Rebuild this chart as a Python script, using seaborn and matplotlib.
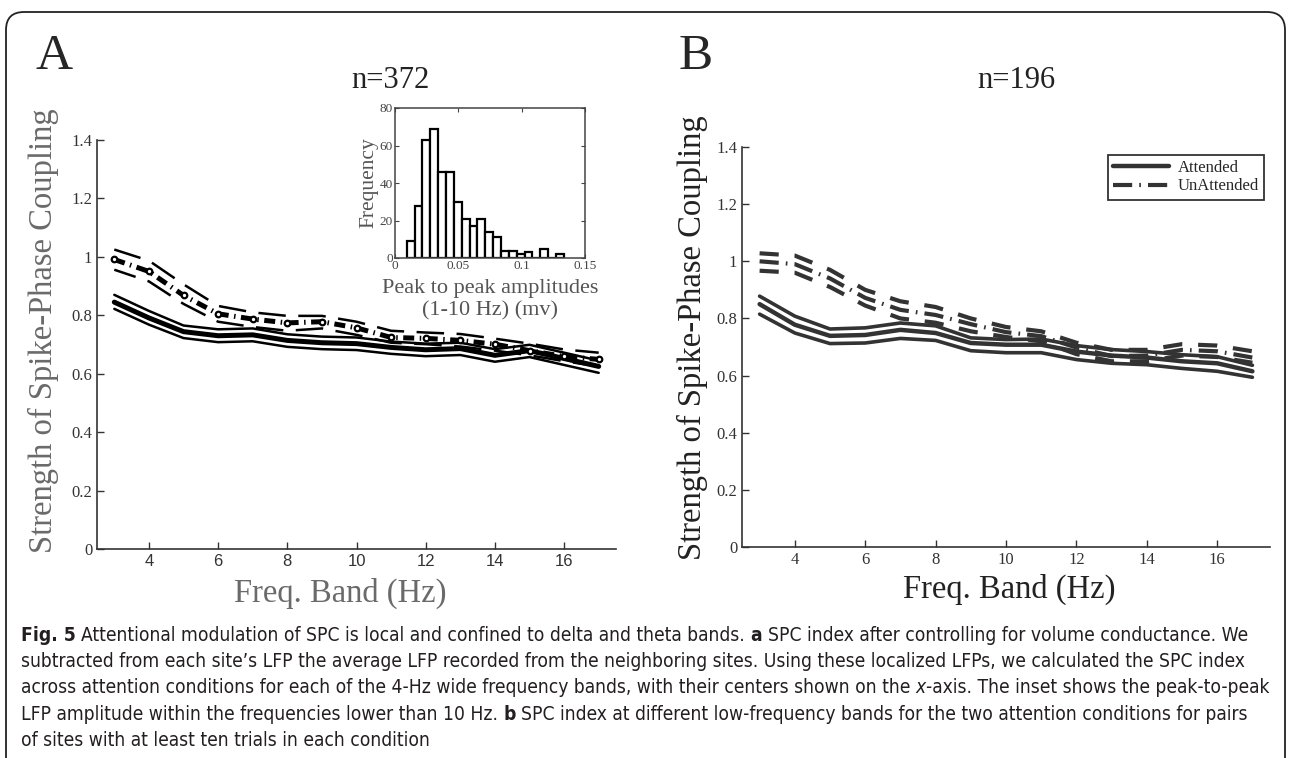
import matplotlib
matplotlib.use("Agg")
import matplotlib.pyplot as plt
import seaborn as sns
import pandas as pd
from matplotlib.patches import FancyBboxPatch
from matplotlib import font_manager

# band centres (Hz)
FREQ = [3, 4, 5, 6, 7, 8, 9, 10, 11, 12, 13, 14, 15, 16, 17]

# panel A (n=372)
A_ATT_HI = [0.870, 0.815, 0.765, 0.752, 0.755, 0.735, 0.727, 0.724, 0.710, 0.703, 0.706, 0.684, 0.699, 0.672, 0.645]
A_ATT = [0.845, 0.791, 0.744, 0.730, 0.733, 0.714, 0.706, 0.703, 0.690, 0.682, 0.686, 0.663, 0.679, 0.652, 0.625]
A_ATT_LO = [0.822, 0.768, 0.722, 0.708, 0.711, 0.692, 0.684, 0.681, 0.668, 0.660, 0.664, 0.641, 0.657, 0.630, 0.603]
A_UN_HI = [1.025, 0.987, 0.906, 0.832, 0.810, 0.798, 0.798, 0.778, 0.747, 0.741, 0.736, 0.720, 0.703, 0.683, 0.672]
A_UN = [0.991, 0.950, 0.868, 0.805, 0.787, 0.774, 0.778, 0.757, 0.724, 0.721, 0.714, 0.701, 0.679, 0.659, 0.649]
A_UN_LO = [0.956, 0.916, 0.839, 0.778, 0.760, 0.747, 0.755, 0.733, 0.706, 0.701, 0.693, 0.679, 0.663, 0.643, 0.625]

# panel B (n=196)
B_ATT_HI = [0.878, 0.808, 0.763, 0.767, 0.784, 0.774, 0.732, 0.726, 0.728, 0.705, 0.691, 0.684, 0.673, 0.666, 0.636]
B_ATT = [0.850, 0.778, 0.739, 0.742, 0.760, 0.749, 0.714, 0.708, 0.708, 0.684, 0.670, 0.663, 0.650, 0.643, 0.615]
B_ATT_LO = [0.815, 0.749, 0.712, 0.714, 0.730, 0.723, 0.687, 0.680, 0.680, 0.656, 0.643, 0.638, 0.625, 0.615, 0.594]
B_UN_HI = [1.028, 1.020, 0.970, 0.900, 0.860, 0.840, 0.800, 0.770, 0.755, 0.715, 0.690, 0.690, 0.710, 0.705, 0.685]
B_UN = [1.000, 0.990, 0.940, 0.872, 0.830, 0.812, 0.780, 0.752, 0.738, 0.698, 0.668, 0.670, 0.690, 0.685, 0.663]
B_UN_LO = [0.967, 0.960, 0.910, 0.845, 0.800, 0.785, 0.755, 0.735, 0.720, 0.675, 0.650, 0.650, 0.670, 0.665, 0.645]

# inset histogram: peak-to-peak amplitude counts
HIST_COUNTS = [9, 28, 63, 69, 46, 46, 30, 21, 17, 21, 14, 11, 4, 4, 2, 3, 0, 5, 0, 2]
HIST_START = 0.0093
HIST_WIDTH = 0.0062

YTICKS = [0, 0.2, 0.4, 0.6, 0.8, 1.0, 1.2, 1.4]
YTICKLABELS = ["0", "0.2", "0.4", "0.6", "0.8", "1", "1.2", "1.4"]
XTICKS = [4, 6, 8, 10, 12, 14, 16]

sns.set_style("ticks", {"xtick.direction": "in", "ytick.direction": "in"})
plt.rcParams["font.family"] = ["Liberation Serif", "DejaVu Serif"]

# caption face: a condensed sans if one is installed
fonts = font_manager.fontManager.ttflist
CAP_FONT, CAP_STRETCH = "Open Sans", "normal"
if any(f.name == "Liberation Sans Narrow" for f in fonts):
    CAP_FONT = "Liberation Sans Narrow"
elif any(f.name == "DejaVu Sans" and str(f.stretch) in ("condensed", "semi-condensed") for f in fonts):
    CAP_FONT, CAP_STRETCH = "DejaVu Sans", "condensed"

W, H = 1290, 758
fig = plt.figure(figsize=(12.9, 7.58), dpi=100)


def frac(x, y):
    return x / W, 1 - y / H


def box(l, t, r, b):
    return [l / W, 1 - b / H, (r - l) / W, (b - t) / H]


# rounded frame around the figure
fig.patches.append(FancyBboxPatch((0.06, -0.5), 12.79, 7.96, boxstyle="round,pad=0,rounding_size=0.18",
                                  transform=fig.dpi_scale_trans, fill=False, lw=1.3, ec="#222222"))

axA = fig.add_axes(box(97, 140, 616, 549))
axB = fig.add_axes(box(742, 147, 1270, 547))
axI = fig.add_axes(box(395, 108, 585, 258))

# ---- panel A
k = "black"
sns.lineplot(x=FREQ, y=A_ATT_HI, ax=axA, color=k, lw=1.8)
sns.lineplot(x=FREQ, y=A_ATT_LO, ax=axA, color=k, lw=1.8)
sns.lineplot(x=FREQ, y=A_ATT, ax=axA, color=k, lw=3.6)
sns.lineplot(x=FREQ, y=A_UN_HI, ax=axA, color=k, lw=1.8, linestyle=(0, (11, 5)))
sns.lineplot(x=FREQ, y=A_UN_LO, ax=axA, color=k, lw=1.8, linestyle=(2, (11, 5)))
sns.lineplot(x=FREQ, y=A_UN, ax=axA, color=k, lw=3.6, linestyle=(0, (2.2, 1.1, 0.3, 1.1)),
             marker="o", ms=4, mfc="white", mec="black", mew=1.6)

# ---- panel B
g = "#333333"
sns.lineplot(x=FREQ, y=B_ATT_HI, ax=axB, color=g, lw=2.6)
sns.lineplot(x=FREQ, y=B_ATT_LO, ax=axB, color=g, lw=2.6)
sns.lineplot(x=FREQ, y=B_ATT, ax=axB, color=g, lw=3.2, label="Attended")
sns.lineplot(x=FREQ, y=B_UN_HI, ax=axB, color=g, lw=3.0, linestyle=(0, (4.6, 3.8)))
sns.lineplot(x=FREQ, y=B_UN_LO, ax=axB, color=g, lw=3.0, linestyle=(0, (4.6, 3.8)))
sns.lineplot(x=FREQ, y=B_UN, ax=axB, color=g, lw=3.0, linestyle=(0, (4.6, 1.7, 0.4, 1.7)), label="UnAttended")

for ax, tick_font, tick_col in [(axA, "Liberation Sans", "#555555"), (axB, "Liberation Serif", "#333333")]:
    sns.despine(ax=ax)
    ax.set_xlim(2.5, 17.5)
    ax.set_ylim(0, 1.4)
    ax.set_yticks(YTICKS)
    ax.set_yticklabels(YTICKLABELS, fontsize=12, color="#333333")
    ax.set_xticks(XTICKS)
    ax.set_xticklabels([str(t) for t in XTICKS], fontsize=12, color=tick_col, family=tick_font)
    ax.tick_params(direction="in", length=5, width=1, colors="#333333")
    for s in ["left", "bottom"]:
        ax.spines[s].set_color("#333333")
        ax.spines[s].set_linewidth(1.2)
    ax.set_xlabel("")
    ax.set_ylabel("")

hdl = axB.get_lines()
leg = axB.legend(handles=[hdl[2], hdl[5]], loc="upper right", bbox_to_anchor=frac(1264, 155),
                 bbox_transform=fig.transFigure, borderaxespad=0, fancybox=False, edgecolor="black",
                 handlelength=3.4, fontsize=12, borderpad=0.3, labelspacing=0.15, handletextpad=0.5)
leg.get_frame().set_linewidth(1.3)

# ---- inset histogram
edges = [HIST_START + HIST_WIDTH * i for i in range(len(HIST_COUNTS) + 1)]
hist_df = pd.DataFrame({"amp": [(a + b) / 2 for a, b in zip(edges[:-1], edges[1:])], "n": HIST_COUNTS})
sns.histplot(data=hist_df, x="amp", weights="n", bins=edges, ax=axI, color="white",
             edgecolor="black", linewidth=1.6, alpha=1)
axI.set_xlim(0, 0.15)
axI.set_ylim(0, 80)
axI.set_xticks([0, 0.05, 0.1, 0.15])
axI.set_xticklabels(["0", "0.05", "0.1", "0.15"], fontsize=9.5, color="#444444")
axI.set_yticks([0, 20, 40, 60, 80])
axI.set_yticklabels(["0", "20", "40", "60", "80"], fontsize=9.5, color="#444444")
axI.tick_params(direction="in", length=3, top=True, right=True, pad=1.5, colors="#444444")
for s in axI.spines.values():
    s.set_visible(True)
    s.set_color("#444444")
    s.set_linewidth(1.1)
axI.set_xlabel("Peak to peak amplitudes\n(1-10 Hz) (mv)", fontsize=16, color="#555555", labelpad=5, linespacing=1.2)
axI.set_ylabel("Frequency", fontsize=15.5, color="#555555", labelpad=1)

# ---- labels
fig.text(*frac(54, 57), "A", fontsize=37, ha="center", va="center")
fig.text(*frac(696, 57), "B", fontsize=37, ha="center", va="center")
fig.text(*frac(390, 81), "n=372", fontsize=22, ha="center", va="center", color="#222222")
fig.text(*frac(1016, 81), "n=196", fontsize=22, ha="center", va="center", color="#222222")
fig.text(*frac(43, 331), "Strength of Spike-Phase Coupling", rotation=90, fontsize=23.5,
         ha="center", va="center", color="#6a6a6a")
fig.text(*frac(692, 338), "Strength of Spike-Phase Coupling", rotation=90, fontsize=23.5,
         ha="center", va="center", color="#222222")
fig.text(*frac(340, 593), "Freq. Band (Hz)", fontsize=23.5, ha="center", va="center", color="#6a6a6a")
fig.text(*frac(1009, 589), "Freq. Band (Hz)", fontsize=23.5, ha="center", va="center", color="#222222")

# ---- caption
CAPTION = [
    [("Fig. 5", "bold", "normal"), ("Attentional modulation of SPC is local and confined to delta and theta bands.", "normal", "normal"),
     ("a", "bold", "normal"), ("SPC index after controlling for volume conductance. We", "normal", "normal")],
    [("subtracted from each site\u2019s LFP the average LFP recorded from the neighboring sites. Using these localized LFPs, we calculated the SPC index", "normal", "normal")],
    [("across attention conditions for each of the 4-Hz wide frequency bands, with their centers shown on the", "normal", "normal"),
     ("x", "normal", "italic"), ("-axis. The inset shows the peak-to-peak", "normal", "normal")],
    [("LFP amplitude within the frequencies lower than 10 Hz.", "normal", "normal"), ("b", "bold", "normal"),
     ("SPC index at different low-frequency bands for the two attention conditions for pairs", "normal", "normal")],
    [("of sites with at least ten trials in each condition", "normal", "normal")],
]
r = fig.canvas.get_renderer()


def cap_text(x, y, s, size, weight="normal", style="normal"):
    return fig.text(x, y, s, fontsize=size, fontweight=weight, fontstyle=style, family=CAP_FONT,
                    fontstretch=CAP_STRETCH, va="baseline", ha="left", color="#231f20")


def width_of(s, size, weight="normal", style="normal"):
    t = cap_text(0, 0, s, size, weight, style)
    w = t.get_window_extent(r).width
    t.remove()
    return w


def line_width(segs, size):
    sp = width_of("x x", size) - width_of("xx", size)
    tot = 0
    for i, (s, wt, st) in enumerate(segs):
        tot += width_of(s, size, wt, st)
        if i < len(segs) - 1 and not segs[i + 1][0].startswith("-"):
            tot += sp
    return tot, sp


size = 12.0
w3, _ = line_width(CAPTION[2], size)
size = size * 1248 / w3
for li, segs in enumerate(CAPTION):
    x = 21
    y = 641 + li * 26.2
    _, sp = line_width(segs, size)
    for i, (s, wt, st) in enumerate(segs):
        cap_text(*frac(x, y), s, size, wt, st)
        x += width_of(s, size, wt, st)
        if i < len(segs) - 1 and not segs[i + 1][0].startswith("-"):
            x += sp

fig.savefig("out.png", dpi=100)
